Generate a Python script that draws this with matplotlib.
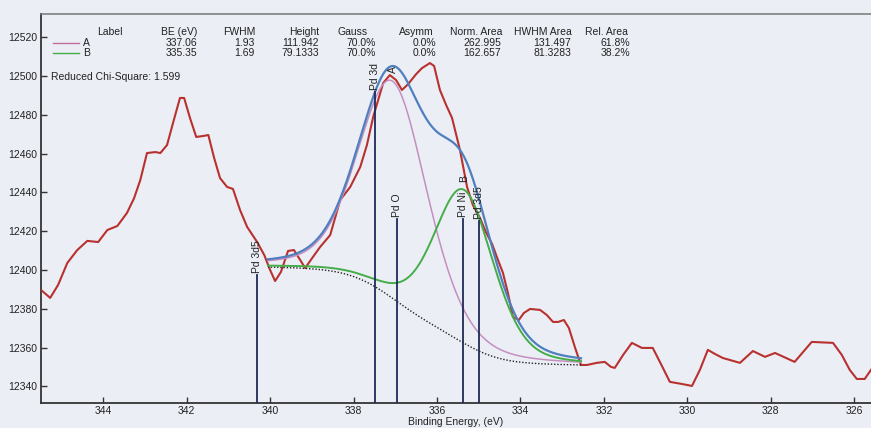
import numpy as np
import matplotlib
matplotlib.use("Agg")
import matplotlib.pyplot as plt

plt.rcParams['font.family'] = ['Liberation Sans', 'DejaVu Sans']

# Measured Pd 3d spectrum (binding energy, counts)
be_raw = [345.49, 345.27, 345.08, 344.86, 344.62, 344.38, 344.12, 343.90, 343.66, 343.43,
          343.26, 343.11, 342.95, 342.75, 342.63, 342.47, 342.32, 342.16, 342.06, 341.92,
          341.77, 341.60, 341.48, 341.34, 341.20, 341.03, 340.89, 340.72, 340.55, 340.31,
          340.14, 340.00, 339.88, 339.74, 339.57, 339.43, 339.28, 339.16, 338.99, 338.80,
          338.56, 338.32, 338.08, 337.84, 337.68, 337.53, 337.29, 337.13, 336.98, 336.84,
          336.69, 336.50, 336.36, 336.17, 336.07, 335.93, 335.78, 335.64, 335.45, 335.28,
          335.14, 334.97, 334.83, 334.68, 334.54, 334.42, 334.30, 334.18, 334.04, 333.92,
          333.77, 333.53, 333.37, 333.22, 333.10, 332.96, 332.84, 332.69, 332.55, 332.41,
          332.17, 331.98, 331.83, 331.74, 331.54, 331.33, 331.09, 330.83, 330.61, 330.42,
          330.13, 329.89, 329.70, 329.51, 329.34, 329.15, 328.74, 328.43, 328.14, 327.90,
          327.43, 327.02, 326.51, 326.30, 326.11, 325.94, 325.75, 325.60]
counts_raw = [12389.7, 12385.6, 12392.3, 12403.6, 12410.3, 12415.0, 12414.4, 12420.6, 12422.7, 12429.4,
              12437.0, 12446.4, 12460.3, 12460.8, 12460.3, 12464.4, 12476.3, 12488.7, 12488.7, 12478.4,
              12468.6, 12469.1, 12469.6, 12457.7, 12447.4, 12442.8, 12441.8, 12430.9, 12422.2, 12414.4,
              12407.7, 12400.0, 12394.3, 12399.0, 12409.8, 12410.3, 12405.2, 12401.0, 12406.2, 12411.9,
              12418.0, 12436.1, 12442.8, 12453.1, 12464.4, 12478.9, 12496.4, 12500.5, 12497.9, 12492.8,
              12495.9, 12501.0, 12504.1, 12506.7, 12505.2, 12492.8, 12485.0, 12478.4, 12461.9, 12442.8,
              12433.5, 12426.8, 12419.6, 12413.4, 12405.2, 12398.5, 12388.1, 12375.8, 12374.2, 12377.8,
              12379.9, 12379.4, 12376.8, 12373.2, 12373.2, 12374.2, 12370.1, 12359.8, 12351.0, 12351.0,
              12352.1, 12352.6, 12350.0, 12349.5, 12356.2, 12362.4, 12359.8, 12359.8, 12350.5, 12342.3,
              12341.2, 12340.2, 12348.5, 12358.8, 12356.7, 12354.6, 12352.1, 12358.2, 12355.2, 12357.2,
              12352.6, 12362.9, 12362.4, 12356.2, 12348.5, 12343.8, 12343.8, 12348.5]

# Fitted components (table values)
peak_labels = ['A', 'B']
peak_be = [337.06, 335.35]
peak_fwhm = [1.93, 1.69]
peak_height = [111.942, 79.1333]
peak_gauss = [0.70, 0.70]
table_be = ['337.06', '335.35']
table_fwhm = ['1.93', '1.69']
table_height = ['111.942', '79.1333']
table_gauss = ['70.0%', '70.0%']
table_asymm = ['0.0%', '0.0%']
table_norm_area = ['262.995', '162.657']
table_hwhm_area = ['131.497', '81.3283']
table_rel_area = ['61.8%', '38.2%']
chi_square = 1.599

# Fit window and Shirley background end levels
fit_high, fit_low = 340.05, 332.55
bg_high, bg_low = 12401.5, 12351.0

# Peak identification markers
marker_be = [340.31, 337.49, 336.96, 335.38, 335.00]
marker_top = [12397.4, 12491.8, 12426.3, 12426.3, 12425.0]
marker_text = ['Pd 3d5', 'Pd 3d', 'Pd O', 'Pd Ni', 'Pd 3d5']

bg_color = '#eceef6'
c_raw = '#b8312f'
c_env = '#4f7fbf'
c_a = '#c48fbf'
c_b = '#45ad48'
c_mark = '#1f2a5a'


def gl(x, center, fwhm, height, gfrac):
    d = (x - center) / fwhm
    g = np.exp(-4 * np.log(2) * d ** 2)
    lz = 1.0 / (1.0 + 4 * d ** 2)
    return height * (gfrac * g + (1 - gfrac) * lz)


x = np.linspace(fit_low, fit_high, 600)
comps = [gl(x, c, f, h, g) for c, f, h, g in zip(peak_be, peak_fwhm, peak_height, peak_gauss)]
total = comps[0] + comps[1]
cum = np.concatenate([[0], np.cumsum(0.5 * (total[1:] + total[:-1]) * np.diff(x))])
shirley = bg_low + (bg_high - bg_low) * cum / cum[-1]

fig = plt.figure(figsize=(8.71, 4.28), dpi=100, facecolor=bg_color)
ax = fig.add_axes([41 / 871, 25 / 428, 830 / 871, 389 / 428], facecolor=bg_color)

ax.plot(be_raw, counts_raw, color=c_raw, lw=1.5, zorder=3)
ax.plot(x, shirley, color='#222222', lw=1.0, ls=(0, (1, 1.3)), zorder=4)
ax.plot(x, shirley + comps[0], color=c_a, lw=1.1, zorder=4)
ax.plot(x, shirley + comps[1], color=c_b, lw=1.4, zorder=4)
ax.plot(x, shirley + total, color=c_env, lw=1.6, zorder=5)

ymin, ymax = 12331.4, 12532.0
ax.set_xlim(345.49, 325.6)
ax.set_ylim(ymin, ymax)

for b, top, t in zip(marker_be, marker_top, marker_text):
    ax.plot([b, b], [ymin, top], color=c_mark, lw=1.3, zorder=6)
    ax.text(b, top + 1.2, t, rotation=90, ha='center', va='bottom', fontsize=7.5,
            color='#222222', zorder=7)

for lab, c, comp in zip(peak_labels, peak_be, comps):
    i = np.argmax(comp)
    ax.text(c, (shirley + comp)[i] + 6, lab, rotation=90, ha='center', va='center',
            fontsize=7.5, color='#222222', zorder=7)

ax.set_xticks([344, 342, 340, 338, 336, 334, 332, 330, 328, 326])
ax.set_yticks([12340, 12360, 12380, 12400, 12420, 12440, 12460, 12480, 12500, 12520])
ax.tick_params(axis='both', labelsize=7.5, length=4, width=1, color='#333333',
               labelcolor='#222222', direction='in', pad=2.5)
ax.set_xlabel('Binding Energy, (eV)', fontsize=7.5, color='#222222', labelpad=0.5)

ax.spines['right'].set_visible(False)
ax.spines['left'].set_color('#333333')
ax.spines['left'].set_linewidth(1.3)
ax.spines['bottom'].set_color('#333333')
ax.spines['bottom'].set_linewidth(1.3)
ax.spines['top'].set_color('#777777')
ax.spines['top'].set_linewidth(1.1)


def fx(px):
    return (px - 41) / 830


def fy(py):
    return (403 - py) / 389


tr = ax.transAxes
fs = 7.5
headers = [('Label', 110, 'center'), ('BE (eV)', 197, 'right'), ('FWHM', 255, 'right'),
           ('Height', 319, 'right'), ('Gauss', 368, 'right'), ('Asymm', 434, 'right'),
           ('Norm. Area', 502, 'right'), ('HWHM Area', 572, 'right'), ('Rel. Area', 628, 'right')]
for t, px, ha in headers:
    ax.text(fx(px), fy(32), t, transform=tr, ha=ha, va='center', fontsize=fs, color='#222222')

cols = [(table_be, 197), (table_fwhm, 255), (table_height, 319), (table_gauss, 376),
        (table_asymm, 436), (table_norm_area, 501), (table_hwhm_area, 571), (table_rel_area, 630)]
row_y = [43, 53]
row_colors = ['#c0709a', c_b]
for r, (lab, py, rc) in enumerate(zip(peak_labels, row_y, row_colors)):
    ax.plot([fx(53), fx(79)], [fy(py), fy(py)], transform=tr, color=rc, lw=1.0, clip_on=False)
    ax.text(fx(83), fy(py), lab, transform=tr, ha='left', va='center', fontsize=fs, color='#222222')
    for vals, px in cols:
        ax.text(fx(px), fy(py), vals[r], transform=tr, ha='right', va='center',
                fontsize=fs, color='#222222')

ax.text(fx(51), fy(77), f'Reduced Chi-Square: {chi_square:.3f}', transform=tr, ha='left',
        va='center', fontsize=fs, color='#222222')

fig.savefig('out.png', dpi=100, facecolor=bg_color)
